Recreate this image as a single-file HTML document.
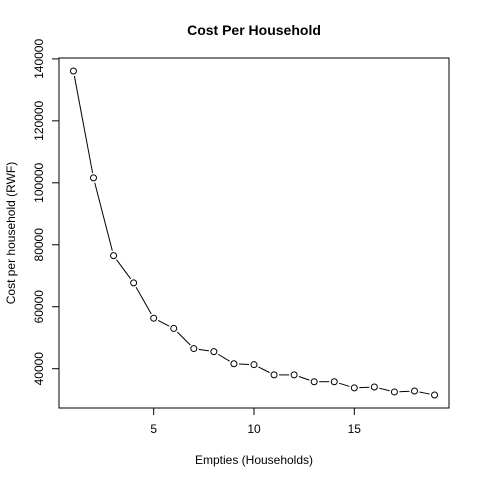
<!DOCTYPE html>
<html><head><meta charset="utf-8"><style>
html,body{margin:0;padding:0;background:#fff;}
svg{display:block;font-family:"Liberation Sans",Arial,sans-serif;}
</style></head><body>
<svg id="chart" width="480" height="480" viewBox="0 0 480 480">
<rect x="0" y="0" width="480" height="480" fill="#fff"/>
<text x="254" y="35" text-anchor="middle" font-size="14" font-weight="bold">Cost Per Household</text>
<text x="254" y="464" text-anchor="middle" font-size="12">Empties (Households)</text>
<text transform="translate(15,233) rotate(-90)" text-anchor="middle" font-size="12">Cost per household (RWF)</text>
<rect x="59" y="58" width="390" height="350" fill="none" stroke="#000" stroke-width="1"/>
<g id="xaxis"></g>
<g id="yaxis"></g>
<g id="series"></g>
</svg>
<script>
const xValues = [1,2,3,4,5,6,7,8,9,10,11,12,13,14,15,16,17,18,19];
const costValues = [136100,101600,76500,67700,56300,53000,46500,45500,41600,41300,38000,38000,35800,35800,33800,34100,32500,32800,31500];
const xTicks = [5,10,15];
const yTicks = [40000,60000,80000,100000,120000,140000];

const NS="http://www.w3.org/2000/svg";
const L=59,R=449,T=58,B=408;
const xmin=Math.min(...xValues),xmax=Math.max(...xValues);
const ymin=Math.min(...costValues),ymax=Math.max(...costValues);
const xd0=xmin-(xmax-xmin)*0.04,xd1=xmax+(xmax-xmin)*0.04;
const yd0=ymin-(ymax-ymin)*0.04,yd1=ymax+(ymax-ymin)*0.04;
const sx=v=>L+(v-xd0)/(xd1-xd0)*(R-L);
const sy=v=>B-(v-yd0)/(yd1-yd0)*(B-T);
function mk(tag,attrs,parent){const e=document.createElementNS(NS,tag);for(const k in attrs)e.setAttribute(k,attrs[k]);parent.appendChild(e);return e;}

const xa=document.getElementById('xaxis');
mk('line',{x1:sx(xTicks[0]),x2:sx(xTicks[xTicks.length-1]),y1:B,y2:B,stroke:'#000'},xa);
xTicks.forEach(t=>{
  const l=mk('line',{x1:sx(t),x2:sx(t),y1:B,y2:B+7,stroke:'#000'},xa);
  
  
  const tx=mk('text',{x:sx(t),y:B+25,'text-anchor':'middle','font-size':'12'},xa);
  tx.textContent=t;
  
  
});
const ya=document.getElementById('yaxis');
yTicks.forEach(t=>{
  const l=mk('line',{x1:L-7,x2:L,y1:sy(t),y2:sy(t),stroke:'#000'},ya);
  
  
  const tx=mk('text',{transform:`translate(${L-16},${sy(t)}) rotate(-90)`,'text-anchor':'middle','font-size':'12'},ya);
  tx.textContent=t;
  
  
});

const s=document.getElementById('series');
const gap=5;
for(let i=0;i<xValues.length-1;i++){
  const x1=sx(xValues[i]),y1=sy(costValues[i]),x2=sx(xValues[i+1]),y2=sy(costValues[i+1]);
  const d=Math.hypot(x2-x1,y2-y1);
  if(d<=2*gap)continue;
  const ux=(x2-x1)/d,uy=(y2-y1)/d;
  const l=mk('line',{x1:x1+ux*gap,y1:y1+uy*gap,x2:x2-ux*gap,y2:y2-uy*gap,stroke:'#000','stroke-width':1},s);
  
  
}
xValues.forEach((x,i)=>{
  const c=mk('circle',{cx:sx(x),cy:sy(costValues[i]),r:3,fill:'none',stroke:'#000','stroke-width':1},s);
  
  
});
</script>
</body></html>
